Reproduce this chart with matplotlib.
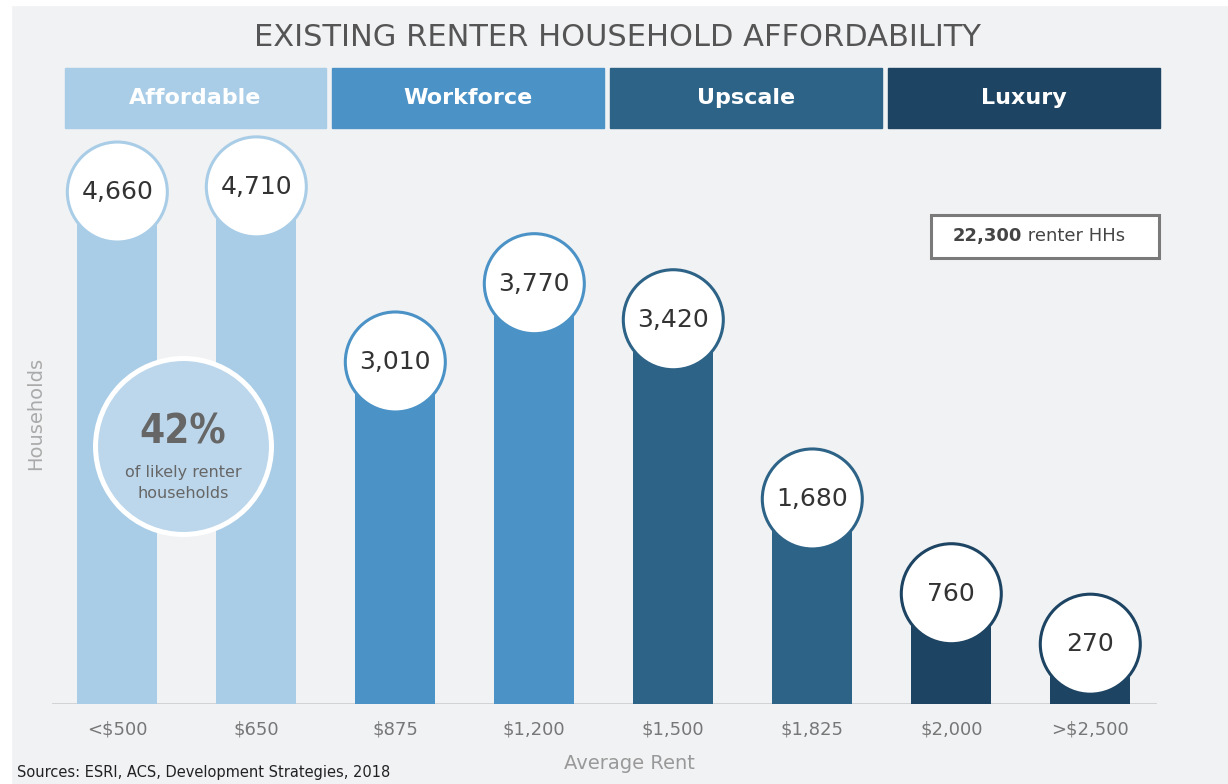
import matplotlib
matplotlib.use("Agg")
import matplotlib.pyplot as plt
from matplotlib import transforms
from matplotlib.patches import Rectangle

# data
rent_labels = ["<$500", "$650", "$875", "$1,200", "$1,500", "$1,825", "$2,000", ">$2,500"]
households = [4660, 4710, 3010, 3770, 3420, 1680, 760, 270]
tier_of_bar = [0, 0, 1, 1, 2, 2, 3, 3]
tiers = ["Affordable", "Workforce", "Upscale", "Luxury"]
tier_colors = ["#a9cde7", "#4b92c6", "#2d6387", "#1d4462"]
total_hh = "22,300"
share_text = "42%"

fig = plt.figure(figsize=(12.28, 7.84), dpi=100)
fig.patch.set_facecolor("#f1f2f4")
# white margin strips of the page
fig.add_artist(Rectangle((0, 0), 11 / 1228, 1, transform=fig.transFigure, color="white", zorder=0))
fig.add_artist(Rectangle((0, 1 - 5 / 784), 1, 5 / 784, transform=fig.transFigure, color="white", zorder=0))

ax = fig.add_axes([52 / 1228, 80 / 784, 1105 / 1228, 564 / 784])
ax.set_facecolor("none")
ax.set_xlim(-0.47, 7.48)
ax.set_ylim(0, 564 / 0.103)
for s in ax.spines.values():
    s.set_visible(False)

x = list(range(len(households)))
bar_colors = [tier_colors[t] for t in tier_of_bar]

ax.bar(x, households, width=0.575, color=bar_colors, zorder=2)
ax.axhline(0, color="#cfd0d3", lw=2, zorder=1)

# value bubbles sit a bit above the bar top
off = transforms.offset_copy(ax.transData, fig=fig, x=0, y=32, units="dots")
ax.scatter(x, households, s=5184, c="white", edgecolors=bar_colors, linewidths=2.2,
           transform=off, zorder=4, clip_on=False)
for xi, v in zip(x, households):
    ax.text(xi, v, f"{v:,}", transform=off, ha="center", va="center",
            fontsize=18, color="#333333", zorder=5)

# tier header bands
band = transforms.blended_transform_factory(ax.transData, ax.transAxes)
for i, (name, col) in enumerate(zip(tiers, tier_colors)):
    left = max(2 * i - 0.455, -0.375)
    right = 2 * i + 1.5
    ax.add_patch(Rectangle((left, 1.0213), right - left, 0.1064, transform=band,
                           color=col, clip_on=False))
    ax.text((left + right) / 2, 1.0745, name, transform=band, ha="center", va="center",
            fontsize=16, fontweight="bold", color="white")

# total box
ax.add_patch(Rectangle((0.7955, 0.7908), 0.2063, 0.0762, transform=ax.transAxes,
                       facecolor="white", edgecolor="#7a7a7a", lw=2.2, zorder=3, clip_on=False))
t1 = ax.text(0.8154, 0.829, total_hh, transform=ax.transAxes, ha="left", va="center",
             fontsize=13, fontweight="bold", color="#444444", zorder=4)
ax.annotate(" renter HHs", xy=(1, 0), xycoords=t1, ha="left", va="bottom",
            fontsize=13, color="#444444", zorder=4)

# share bubble
ax.scatter([0.1186], [0.4574], s=16050, c="#bcd7ec", edgecolors="white", linewidths=3.6,
           transform=ax.transAxes, zorder=6, clip_on=False)
ax.text(0.1186, 0.4805, share_text, transform=ax.transAxes, ha="center", va="center",
        fontsize=29, fontweight="bold", fontstretch="condensed", color="#666666", zorder=7)
ax.text(0.1186, 0.4096, "of likely renter", transform=ax.transAxes, ha="center", va="center",
        fontsize=11.5, color="#666666", zorder=7)
ax.text(0.1186, 0.374, "households", transform=ax.transAxes, ha="center", va="center",
        fontsize=11.5, color="#666666", zorder=7)

ax.set_xticks(x, rent_labels)
ax.set_yticks([])
ax.tick_params(axis="x", length=0, pad=12, labelsize=13, labelcolor="#777777")

ax.set_xlabel("Average Rent", fontsize=14, color="#999999")
ax.xaxis.set_label_coords(0.523, -0.0887)
ax.set_ylabel("Households", fontsize=14, color="#aaaaaa")
ax.yaxis.set_label_coords(-0.006, 0.516)

fig.text(0.503, 1 - 37 / 784, "EXISTING RENTER HOUSEHOLD AFFORDABILITY", ha="center", va="center",
         fontsize=22, color="#555555")
fig.text(17 / 1228, 1 - 772 / 784, "Sources: ESRI, ACS, Development Strategies, 2018",
         ha="left", va="center", fontsize=10.5, color="#222222")

fig.savefig("out.png", dpi=100, facecolor=fig.get_facecolor())
